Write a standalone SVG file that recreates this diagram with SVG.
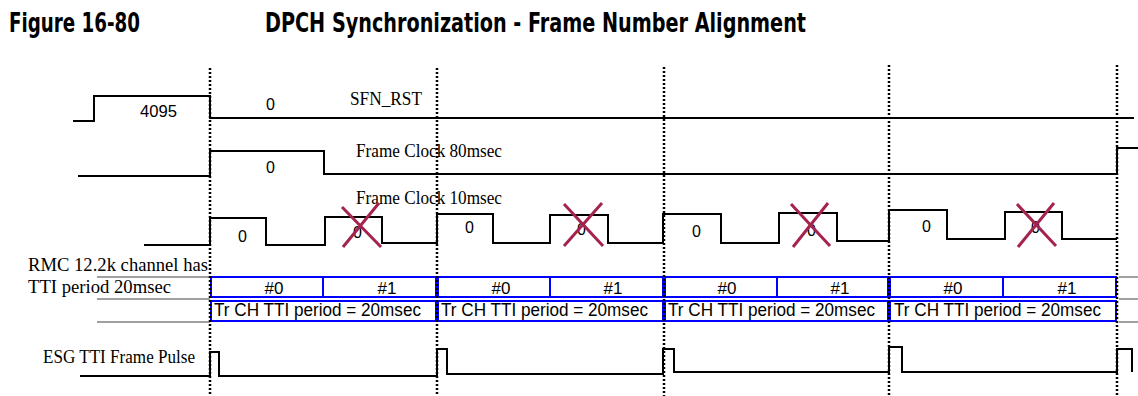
<svg xmlns="http://www.w3.org/2000/svg" width="1138" height="396" viewBox="0 0 1138 396">
<style>
.title{font-family:"Liberation Sans Narrow","DejaVu Sans Condensed","Liberation Sans",sans-serif;font-weight:bold;font-size:26px;fill:#000}
.ser{font-family:"Liberation Serif","Times New Roman",serif;font-size:18px;fill:#000}
.val{font-family:"Liberation Sans",Arial,sans-serif;font-size:16px;fill:#000}
.cell{font-family:"Liberation Sans",Arial,sans-serif;font-size:17px;fill:#000;text-anchor:middle}
.tr{font-family:"Liberation Sans",Arial,sans-serif;font-size:17.5px;fill:#000}
.wave{fill:none;stroke:#000;stroke-width:2}
.dot{fill:none;stroke:#000;stroke-width:2.5;stroke-dasharray:2 2}
.box{fill:#fff;stroke:#0000ff;stroke-width:2}
.gray{fill:none;stroke:#a0a0a0;stroke-width:2}
.cross{fill:none;stroke:#a5234f;stroke-width:3}
</style>
<rect width="1138" height="396" fill="#fff"/>
<g id="title">
<text class="title" x="9" y="32" textLength="131" lengthAdjust="spacingAndGlyphs">Figure 16-80</text>
<text class="title" x="265" y="32" textLength="541" lengthAdjust="spacingAndGlyphs">DPCH Synchronization - Frame Number Alignment</text>
</g>
<g id="rmc-tti">
<path class="gray" d="M97,277H210M97,299H210M97,322H210M1119,277H1138M1119,299H1138M1119,322H1138"/>
<rect class="box" x="211" y="277" width="225" height="20"/>
<line x1="323" y1="277" x2="323" y2="297" stroke="#0000ff" stroke-width="2"/>
<rect class="box" x="211" y="301" width="225" height="20"/>
<rect class="box" x="438" y="277" width="225" height="20"/>
<line x1="550" y1="277" x2="550" y2="297" stroke="#0000ff" stroke-width="2"/>
<rect class="box" x="438" y="301" width="225" height="20"/>
<rect class="box" x="665" y="277" width="223" height="20"/>
<line x1="777" y1="277" x2="777" y2="297" stroke="#0000ff" stroke-width="2"/>
<rect class="box" x="665" y="301" width="223" height="20"/>
<rect class="box" x="890" y="277" width="226" height="20"/>
<line x1="1003" y1="277" x2="1003" y2="297" stroke="#0000ff" stroke-width="2"/>
<rect class="box" x="890" y="301" width="226" height="20"/>
<text class="cell" x="274" y="294">#0</text>
<text class="cell" x="387" y="294">#1</text>
<text class="cell" x="501" y="294">#0</text>
<text class="cell" x="613" y="294">#1</text>
<text class="cell" x="727" y="294">#0</text>
<text class="cell" x="840" y="294">#1</text>
<text class="cell" x="953" y="294">#0</text>
<text class="cell" x="1067" y="294">#1</text>
<text class="tr" x="214" y="316" textLength="207" lengthAdjust="spacingAndGlyphs">Tr CH TTI period = 20msec</text>
<text class="tr" x="441" y="316" textLength="207" lengthAdjust="spacingAndGlyphs">Tr CH TTI period = 20msec</text>
<text class="tr" x="668" y="316" textLength="207" lengthAdjust="spacingAndGlyphs">Tr CH TTI period = 20msec</text>
<text class="tr" x="894" y="316" textLength="207" lengthAdjust="spacingAndGlyphs">Tr CH TTI period = 20msec</text>
<text class="ser" x="28" y="271" textLength="180" lengthAdjust="spacingAndGlyphs">RMC 12.2k channel has</text>
<text class="ser" x="28" y="293" textLength="143" lengthAdjust="spacingAndGlyphs">TTI period 20msec</text>
</g>
<g id="sfn-rst">
<path class="wave" d="M73,121H94V96H210V118H1134"/>
<text class="val" x="140" y="117" textLength="37" lengthAdjust="spacingAndGlyphs">4095</text>
<text class="val" x="266" y="110">0</text>
<text class="ser" x="350" y="105" textLength="72" lengthAdjust="spacingAndGlyphs">SFN_RST</text>
</g>
<g id="frame-clock-80">
<path class="wave" d="M78,176H210V151H324V174H1117V148H1138"/>
<text class="val" x="266" y="173">0</text>
<text class="ser" x="356" y="157" textLength="146" lengthAdjust="spacingAndGlyphs">Frame Clock 80msec</text>
</g>
<g id="frame-clock-10">
<path class="wave" d="M144,245H210V218H266V245H325V217H382V243H437V214H493V243H550V215H608V243H663V214H721V243H779V213H837V241H889V210H947V239H1005V212H1062V239H1117"/>
<text class="ser" x="356" y="204" textLength="146" lengthAdjust="spacingAndGlyphs">Frame Clock 10msec</text>
<text class="val" x="238" y="242">0</text>
<text class="val" x="465" y="233">0</text>
<text class="val" x="692" y="237">0</text>
<text class="val" x="922" y="232">0</text>
<text class="val" x="353" y="238">0</text>
<text class="val" x="577" y="235">0</text>
<text class="val" x="807" y="236">0</text>
<text class="val" x="1031" y="233">0</text>
<path class="cross" d="M342,207L381,247M379,203L343,247"/>
<path class="cross" d="M564,204L603,246M602,203L564,246"/>
<path class="cross" d="M791,204L830,246M828,203L793,247"/>
<path class="cross" d="M1017,204L1056,246M1054,203L1018,247"/>
</g>
<g id="esg-pulse">
<path class="wave" d="M80,376H210V352H219V376H437V349H447V374H663V349H674V372H889V347H902V372H1117V349H1132V372"/>
<text class="ser" x="43" y="363" textLength="152" lengthAdjust="spacingAndGlyphs">ESG TTI Frame Pulse</text>
</g>
<g id="connectors">
<line class="dot" x1="210" y1="68" x2="210" y2="396"/>
<line class="dot" x1="437" y1="68" x2="437" y2="396"/>
<line class="dot" x1="664" y1="67" x2="664" y2="396"/>
<line class="dot" x1="889" y1="65" x2="889" y2="396"/>
<line class="dot" x1="1117" y1="65" x2="1117" y2="396"/>
</g>
</svg>
